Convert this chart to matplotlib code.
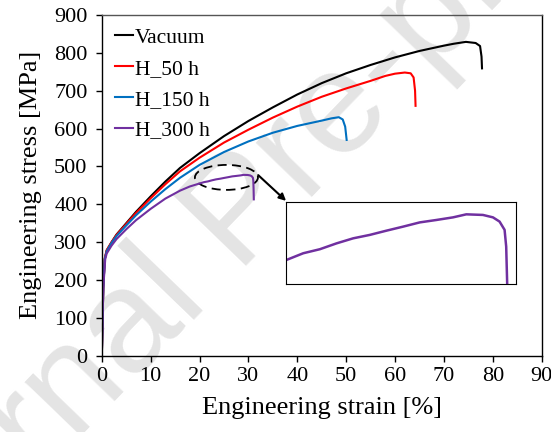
import matplotlib.pyplot as plt
from matplotlib.patches import Ellipse

plt.rcParams['font.family'] = ['Liberation Serif', 'DejaVu Serif']

# engineering strain [%] / stress [MPa] for each condition
vac_strain = [0, 0.3, 0.6, 1, 2, 3, 5, 7, 10, 13, 16, 20, 25, 30, 35, 40, 45,
              50, 55, 60, 65, 70, 72, 74.5, 76.5, 77.4, 77.7, 77.8]
vac_stress = [0, 180, 255, 278, 300, 320, 350, 380, 421, 460, 496, 535, 580,
              620, 656, 690, 720, 746, 768, 788, 805, 819, 824, 829, 826, 818,
              790, 759]

h50_strain = [0, 0.3, 0.6, 1, 2, 3, 5, 7, 10, 13, 16, 20, 25, 30, 35, 40, 45,
              50, 55, 58, 60, 62, 63.2, 63.8, 64.1, 64.2]
h50_stress = [0, 180, 258, 279, 300, 319, 348, 377, 416, 453, 487, 523, 563,
              597, 629, 658, 684, 706, 726, 739, 745, 748, 746, 735, 700, 660]

h150_strain = [0, 0.3, 0.6, 1, 2, 3, 5, 7, 10, 13, 16, 20, 25, 30, 35, 40, 45,
               47, 48.5, 49.3, 49.8, 50.1]
h150_stress = [0, 180, 255, 276, 298, 316, 344, 371, 407, 440, 470, 504, 538,
               566, 589, 607, 621, 627, 630, 624, 605, 570]

h300_strain = [0, 0.3, 0.7, 1, 2, 3, 5, 7, 10, 13, 16, 18, 20.05, 20.88, 21.71,
               22.54, 23.37, 24.2, 25.03, 25.86, 26.69, 27.52, 28.35, 29.01,
               29.84, 30.34, 30.67, 30.92, 31.0, 31.05, 31.1]
h300_stress = [0, 180, 255, 270, 291, 308, 334, 358, 388, 415, 436, 447, 455.1,
               458.4, 460.4, 463.3, 465.8, 467.5, 469.6, 471.6, 473.7, 474.9,
               476.2, 477.7, 477.4, 476.2, 474.1, 470.0, 461.7, 443, 413]

labels = ['Vacuum', 'H_50 h', 'H_150 h', 'H_300 h']
colors = ['black', '#ff0000', '#0070c0', '#7030a0']
xticks = list(range(0, 91, 10))
yticks = list(range(0, 901, 100))

fig = plt.figure(figsize=(5.51, 4.32), dpi=100)
ax = fig.add_axes([0.1848, 0.1766, 0.7982, 0.7887])
ax.patch.set_alpha(0)

# watermark behind everything
fig.text(-0.223, -0.498, 'Journal Pre-proof', fontsize=105, color='#e4e4e4',
         family='Liberation Sans', rotation=46, rotation_mode='anchor',
         ha='left', va='baseline', zorder=-10)

series = [(vac_strain, vac_stress), (h50_strain, h50_stress),
          (h150_strain, h150_stress), (h300_strain, h300_stress)]
for (x, y), lab, c in zip(series, labels, colors):
    ax.plot(x, y, color=c, lw=1.5, label=lab)

ax.set_xlim(0, 90)
ax.set_ylim(0, 900)
ax.set_xticks(xticks)
ax.set_yticks(yticks)
ax.tick_params(direction='out', length=4.3, width=1, labelsize=16)
ax.tick_params(axis='x', pad=4)
ax.tick_params(axis='y', pad=6)
ax.set_xlabel('Engineering strain [%]', fontsize=19, labelpad=8)
ax.set_ylabel('Engineering stress [MPa]', fontsize=19, labelpad=9)
for s in ax.spines.values():
    s.set_linewidth(1.0)
ax.spines['top'].set_color('#555555')

ax.legend(loc='upper left', frameon=False, fontsize=15.5, handlelength=0.85,
          handletextpad=0.1, labelspacing=0.5, borderaxespad=0.2,
          borderpad=0.4)

# dashed ellipse around the H_300 h peak and arrow to the zoomed view
ax.add_patch(Ellipse((25.5, 471), 12.9, 66, angle=0, fill=False,
                     ls=(0, (5, 3)), lw=1.3, color='black'))
ax.annotate('', xy=(37.7, 409), xytext=(32.0, 477),
            arrowprops=dict(arrowstyle='-|>', color='black', lw=1.5,
                            mutation_scale=10, shrinkA=0, shrinkB=0))

ins = ax.inset_axes([37.6, 188.6, 47.2, 218.4], transform=ax.transData)
ins.plot(h300_strain, h300_stress, color=colors[3], lw=1.8)
ins.set_xlim(20, 31.5)
ins.set_ylim(443, 484)
ins.set_xticks([])
ins.set_yticks([])
for s in ins.spines.values():
    s.set_linewidth(0.8)

fig.savefig('out.png', dpi=100)
